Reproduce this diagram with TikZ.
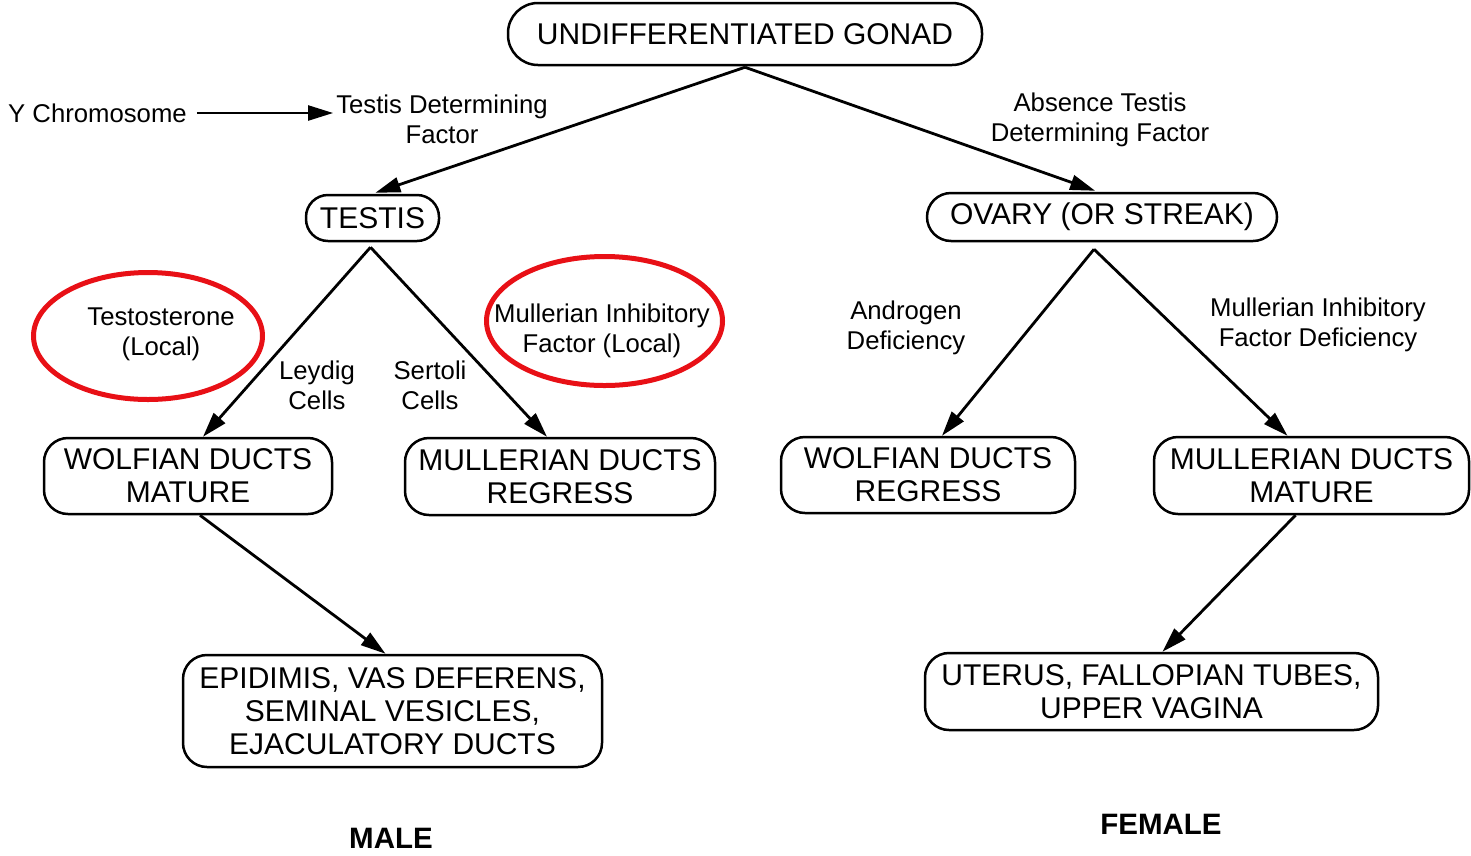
\documentclass[tikz,border=0pt]{standalone}
\usepackage{fontspec}
\setmainfont{Liberation Sans}
\usetikzlibrary{arrows.meta,calc,shapes.geometric}
\definecolor{ringred}{RGB}{232,16,22}
\newcommand\boxfont{\fontsize{30}{33}\selectfont}
\newcommand\lblfont{\fontsize{25.7}{30}\selectfont}
\newcommand\sexfont{\bfseries\fontsize{29.5}{32}\selectfont}
\begin{document}
\begin{tikzpicture}[x=1pt,y=-1pt,
  box/.style={draw, line width=2.5pt, rounded corners=24pt, inner sep=0pt, align=center, font=\boxfont},
  lbl/.style={inner sep=0pt, align=center, font=\lblfont},
  sexlbl/.style={inner sep=0pt, font=\sexfont},
  arr/.style={line width=2.8pt, -{Triangle[length=25pt,width=15pt]}},
  ring/.style={draw=ringred, line width=5pt, ellipse, inner sep=0pt}]
\useasboundingbox (0,0) rectangle (1471,855);

% boxes
\node[box, minimum width=474, minimum height=62, rounded corners=30pt] (gonad) at (745,34) {UNDIFFERENTIATED GONAD};
\node[box, minimum width=133, minimum height=46, rounded corners=22pt] (testis) at (372.5,218) {TESTIS};
\node[box, minimum width=350, minimum height=48] (ovary) at (1102,217) {OVARY (OR STREAK)};
\node[box, minimum width=288, minimum height=76] (wolfL) at (188,476) {WOLFIAN DUCTS\\MATURE};
\node[box, minimum width=310, minimum height=77] (mullL) at (560,476.5) {MULLERIAN DUCTS\\REGRESS};
\node[box, minimum width=294, minimum height=76] (wolfR) at (928,475) {WOLFIAN DUCTS\\REGRESS};
\node[box, minimum width=315, minimum height=77] (mullR) at (1311.5,475.5) {MULLERIAN DUCTS\\MATURE};
\node[box, minimum width=419, minimum height=112] (maleorg) at (392.5,711) {EPIDIMIS, VAS DEFERENS,\\SEMINAL VESICLES,\\EJACULATORY DUCTS};
\node[box, minimum width=453, minimum height=77] (femorg) at (1151.5,691.5) {UTERUS, FALLOPIAN TUBES,\\UPPER VAGINA};

% red rings
\node[ring, minimum width=229, minimum height=127] (ringT) at (148,336) {};
\node[ring, minimum width=236, minimum height=129] (ringM) at (604.5,321) {};

% labels
\node[lbl] (ychr) at (97.5,113) {Y Chromosome};
\node[lbl] (tdf) at (442,119) {Testis Determining\\Factor};
\node[lbl] (atdf) at (1100,120) {Absence Testis\\Determining Factor};
\node[lbl] (testo) at (161,334) {Testosterone\\(Local)};
\node[lbl] (mif) at (602,331) {Mullerian Inhibitory\\Factor (Local)};
\node[lbl] (leydig) at (317,385.5) {Leydig\\Cells};
\node[lbl] (sertoli) at (430,385.5) {Sertoli\\Cells};
\node[lbl] (andro) at (906,328) {Androgen\\Deficiency};
\node[lbl] (mifd) at (1318,325) {Mullerian Inhibitory\\Factor Deficiency};
\node[sexlbl] (malelbl) at (391,838) {MALE};
\node[sexlbl] (femlbl) at (1161,824) {FEMALE};

% connectors
\draw[arr, line width=2.3pt, shorten >=3pt] ([xshift=10pt]ychr.east) -- (ychr.east -| tdf.west);
\draw[arr, shorten >=3pt] ([yshift=-1pt]gonad.south) -- (testis.north);
\draw[arr, shorten >=3pt] ([yshift=-1pt]gonad.south) -- ([xshift=-4pt]ovary.north);
\draw[arr] ([xshift=-2pt,yshift=-5pt]testis.south) -- ([xshift=15pt]wolfL.north);
\draw[arr] ([xshift=-2pt,yshift=-5pt]testis.south) -- ([xshift=-13pt]mullL.north);
\draw[arr] ([xshift=-8pt,yshift=-7pt]ovary.south) -- ([xshift=14pt]wolfR.north);
\draw[arr] ([xshift=-8pt,yshift=-7pt]ovary.south) -- ([xshift=-24pt]mullR.north);
\draw[arr] ([xshift=12pt]wolfL.south) -- ([xshift=-7pt]maleorg.north);
\draw[arr] ([xshift=-16pt]mullR.south) -- ([xshift=11pt]femorg.north);
\end{tikzpicture}
\end{document}
